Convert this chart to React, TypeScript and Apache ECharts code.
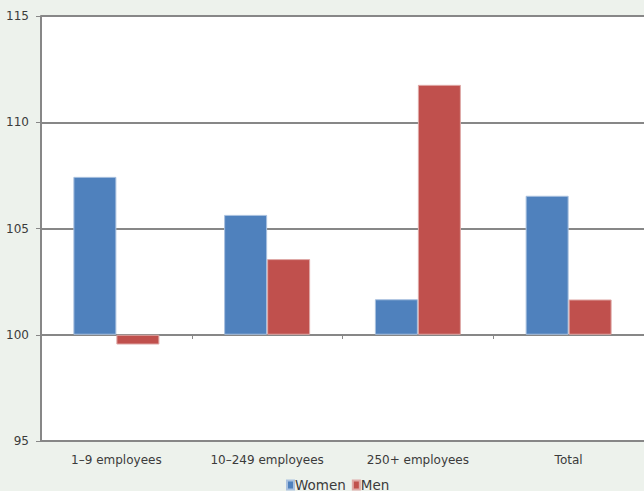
import React, { useEffect, useRef } from "react";
import * as echarts from "echarts";

// Pay index by company size (100 = reference level)
const categories = ["1–9 employees", "10–249 employees", "250+ employees", "Total"];
const women = [107.43, 105.64, 101.67, 106.54];
const men = [99.54, 103.56, 111.76, 101.66];
const baseline = 100;
const yTicks = { min: 95, max: 115, interval: 5 };

const FONT = "DejaVu Sans";
const TEXT = "#3b3b3b";
const GRID = "#878787";

// Bars grow from the 100 line: an invisible stacked segment lifts each bar to its lower end.
const lower = (vals: number[]) => vals.map((v) => Math.min(v, baseline));
const span = (vals: number[]) => vals.map((v) => Math.abs(v - baseline));

export default function App() {
  const ref = useRef<HTMLDivElement>(null);

  useEffect(() => {
    if (!ref.current) return;
    const chart = echarts.init(ref.current, undefined, { renderer: "svg" });
    const hidden = {
      type: "bar" as const,
      barWidth: 43,
      barGap: "0%",
      silent: true,
      itemStyle: { color: "transparent", borderWidth: 0 },
      emphasis: { disabled: true },
    };
    chart.setOption({
      animation: false,
      backgroundColor: "#edf2ec",
      textStyle: { fontFamily: FONT, color: TEXT },
      grid: {
        left: 41,
        top: 16,
        right: -3,
        bottom: 50,
        show: true,
        backgroundColor: "#ffffff",
        borderWidth: 0,
        containLabel: false,
      },
      legend: {
        data: ["Women", "Men"],
        bottom: -6,
        left: 281,
        icon: "rect",
        itemWidth: 7,
        itemHeight: 9,
        itemGap: 6,
        selectedMode: false,
        textStyle: { fontFamily: FONT, fontSize: 13.5, color: TEXT, padding: [0, 0, 0, -4] },
      },
      xAxis: [
        {
          type: "category",
          data: categories,
          axisLine: { show: true, lineStyle: { color: GRID, width: 2 } },
          axisTick: { show: false },
          axisLabel: { fontFamily: FONT, fontSize: 12, color: TEXT, margin: 13 },
        },
        {
          type: "category",
          data: categories,
          position: "bottom",
          offset: -106,
          axisLine: { show: false },
          axisTick: { show: true, length: 4, lineStyle: { color: GRID, width: 1 } },
          axisLabel: { show: false },
        },
      ],
      yAxis: {
        type: "value",
        min: yTicks.min,
        max: yTicks.max,
        interval: yTicks.interval,
        axisLine: { show: true, lineStyle: { color: GRID, width: 2 } },
        axisTick: { show: true, length: 5, lineStyle: { color: GRID, width: 1 } },
        axisLabel: { fontFamily: FONT, fontSize: 12, color: TEXT, margin: 12 },
        splitLine: { show: true, lineStyle: { color: GRID, width: 2 } },
      },
      series: [
        { ...hidden, name: "womenBase", stack: "women", data: lower(women) },
        {
          type: "bar",
          name: "Women",
          stack: "women",
          barWidth: 43,
          barGap: "0%",
          data: span(women),
          itemStyle: { color: "#4f81bd", borderColor: "#a9c1df", borderWidth: 1 },
        },
        { ...hidden, name: "menBase", stack: "men", data: lower(men) },
        {
          type: "bar",
          name: "Men",
          stack: "men",
          barWidth: 43,
          barGap: "0%",
          data: span(men),
          itemStyle: { color: "#c0504d", borderColor: "#dfa9a7", borderWidth: 1 },
        },
      ],
    });
    return () => chart.dispose();
  }, []);

  return (
    <div
      ref={ref}
      style={{ position: "fixed", left: 0, top: 0, width: 644, height: 491 }}
    />
  );
}
